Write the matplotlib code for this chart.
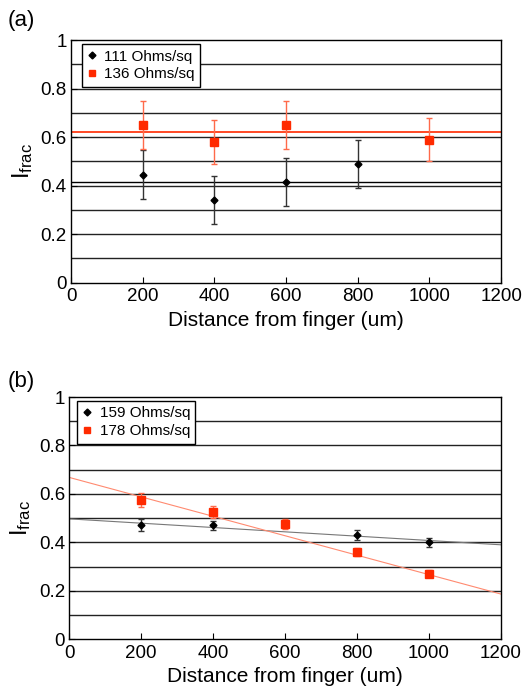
import matplotlib.pyplot as plt
from matplotlib.lines import Line2D

plt.rcParams['font.family'] = ['Liberation Sans', 'DejaVu Sans']

dist = [0, 200, 400, 600, 800, 1000, 1200]

# panel (a)
a_x_111 = [200, 400, 600, 800]
a_y_111 = [0.445, 0.34, 0.415, 0.49]
a_e_111 = [0.10, 0.10, 0.10, 0.10]
a_x_136 = [200, 400, 600, 1000]
a_y_136 = [0.65, 0.58, 0.65, 0.59]
a_e_136 = [0.10, 0.09, 0.10, 0.09]
a_mean_111 = 0.416
a_mean_136 = 0.62

# panel (b)
b_x_159 = [200, 400, 800, 1000]
b_y_159 = [0.47, 0.47, 0.43, 0.40]
b_e_159 = [0.025, 0.02, 0.022, 0.02]
b_x_178 = [200, 400, 600, 800, 1000]
b_y_178 = [0.575, 0.525, 0.475, 0.36, 0.27]
b_e_178 = [0.03, 0.025, 0.02, 0.016, 0.014]
b_fit_x = [0, 1200]
b_fit_159 = [0.497, 0.39]
b_fit_178 = [0.668, 0.187]

grid_y = [0.1, 0.2, 0.3, 0.4, 0.5, 0.6, 0.7, 0.8, 0.9]
yticks = [0, 0.2, 0.4, 0.6, 0.8, 1]
ylabels = ['0', '0.2', '0.4', '0.6', '0.8', '1']

RED = '#ff2a00'
RED_BAR = '#ff6a4a'

fig = plt.figure(figsize=(5.28, 6.92), dpi=100)
ax1 = fig.add_axes([0.1345, 0.5915, 0.8145, 0.3505])
ax2 = fig.add_axes([0.1312, 0.0762, 0.8168, 0.3501])


def style(ax):
    for g in grid_y:
        ax.axhline(g, color='#222222', lw=1.0, zorder=1)
    ax.set_xlim(0, 1200)
    ax.set_ylim(0, 1)
    ax.set_xticks(dist)
    ax.set_yticks(yticks)
    ax.set_yticklabels(ylabels)
    ax.tick_params(direction='in', labelsize=13.5, length=4, width=0.8)
    ax.tick_params(axis='x', pad=4)
    ax.tick_params(axis='y', pad=3)
    ax.set_xlabel('Distance from finger (um)', fontsize=15, labelpad=4)
    ax.set_ylabel(r'$\mathregular{I_{frac}}$', fontsize=17, labelpad=4)
    for s in ax.spines.values():
        s.set_linewidth(1.0)


def legend(ax, labels, xoff):
    handles = [Line2D([], [], ls='none', marker='D', color='black', ms=3.5),
               Line2D([], [], ls='none', marker='s', color=RED, ms=5)]
    leg = ax.legend(handles, labels, loc='upper left', fontsize=11,
                    fancybox=False, framealpha=1, edgecolor='black',
                    handlelength=0.6, handletextpad=0.5, borderpad=0.35,
                    labelspacing=0.25, borderaxespad=0,
                    bbox_to_anchor=(xoff, 0.983))
    leg.get_frame().set_linewidth(1.0)


style(ax1)
ax1.axhline(a_mean_136, color=RED, lw=1.2, zorder=2)
ax1.axhline(a_mean_111, color='black', lw=1.0, zorder=2)
ax1.errorbar(a_x_111, a_y_111, yerr=a_e_111, fmt='D', color='black', ms=3.5,
             ecolor='#333333', elinewidth=1, capsize=2.5, capthick=1, zorder=3)
ax1.errorbar(a_x_136, a_y_136, yerr=a_e_136, fmt='s', color=RED, ms=5.5,
             ecolor=RED_BAR, elinewidth=1, capsize=2.5, capthick=1, zorder=3)
legend(ax1, ['111 Ohms/sq', '136 Ohms/sq'], 0.026)

style(ax2)
ax2.plot(b_fit_x, b_fit_159, color='#777777', lw=0.8, zorder=2)
ax2.plot(b_fit_x, b_fit_178, color='#ff8a70', lw=0.8, zorder=2)
ax2.errorbar(b_x_159, b_y_159, yerr=b_e_159, fmt='D', color='black', ms=3.5,
             ecolor='#333333', elinewidth=1, capsize=2.5, capthick=1, zorder=3)
ax2.errorbar(b_x_178, b_y_178, yerr=b_e_178, fmt='s', color=RED, ms=5.5,
             ecolor=RED_BAR, elinewidth=1, capsize=2.5, capthick=1, zorder=3)
legend(ax2, ['159 Ohms/sq', '178 Ohms/sq'], 0.019)

fig.text(0.015, 0.970, '(a)', fontsize=16, va='center')
fig.text(0.015, 0.448, '(b)', fontsize=16, va='center')

fig.savefig('out.png', dpi=100)
